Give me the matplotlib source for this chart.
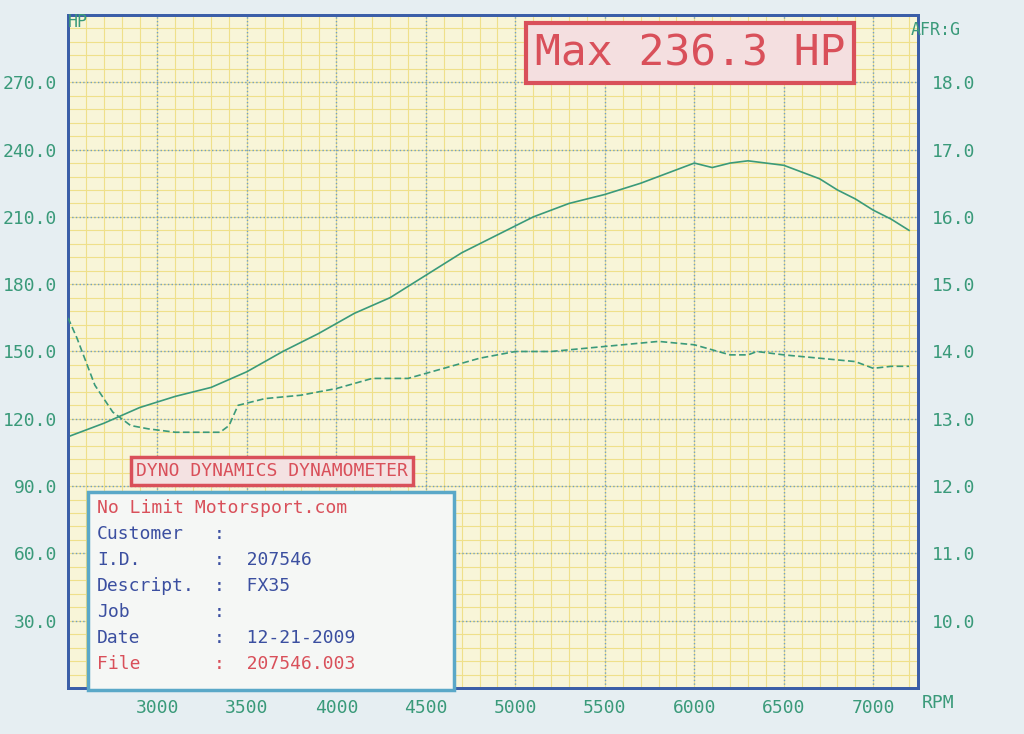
import matplotlib
matplotlib.use("Agg")
import matplotlib.pyplot as plt
from matplotlib.patches import Rectangle
import numpy as np

rpm_hp = [2500,2700,2900,3100,3300,3500,3700,3900,4100,4300,4500,4700,4900,5100,5300,5500,5700,5900,6000,6100,6200,6300,6400,6500,6600,6700,6800,6900,7000,7100,7200]
hp = [112,118,125,130,134,141,150,158,167,174,184,194,202,210,216,220,225,231,234,232,234,235,234,233,230,227,222,218,213,209,204]
rpm_afr = [2500,2550,2650,2750,2850,2950,3100,3250,3350,3400,3450,3600,3800,4000,4200,4400,4600,4800,5000,5200,5400,5600,5800,6000,6200,6300,6350,6500,6700,6900,7000,7100,7200]
afr = [14.5,14.2,13.5,13.1,12.9,12.85,12.8,12.8,12.8,12.9,13.2,13.3,13.35,13.45,13.6,13.6,13.75,13.9,14.0,14.0,14.05,14.1,14.15,14.1,13.95,13.95,14.0,13.95,13.9,13.85,13.75,13.78,13.78]
hp_ticks = [30,60,90,120,150,180,210,240,270]
afr_ticks = [10,11,12,13,14,15,16,17,18]
rpm_ticks = [3000,3500,4000,4500,5000,5500,6000,6500,7000]

mono = "DejaVu Sans Mono"
green = "#3a9a7a"
fig = plt.figure(figsize=(10.24,7.34), dpi=100, facecolor="#e6eef2")
ax = fig.add_axes([68/1024, 46/734, 850/1024, 673/734])
ax.set_facecolor("#f8f5d8")
ax.set_xlim(2500,7250); ax.set_ylim(0,300)
for x in np.arange(2500,7251,100):
    ax.axvline(x,color="#efe08a",lw=0.8,zorder=0)
for y in np.arange(0,301,6):
    ax.axhline(y,color="#efe08a",lw=0.8,zorder=0)
for x in rpm_ticks:
    ax.axvline(x,color="#6f9fc8",lw=1,ls=":",zorder=1)
for y in hp_ticks:
    ax.axhline(y,color="#6f9fc8",lw=1,ls=":",zorder=1)
ax.plot(rpm_hp,hp,color=green,lw=1.2,zorder=3)
ax2 = ax.twinx()
ax2.set_ylim(9,19)
ax2.plot(rpm_afr,afr,color=green,lw=1.2,ls=(0,(4,2)),zorder=3)
for a in (ax,ax2):
    for s in a.spines.values():
        s.set_color("#3b5ea8"); s.set_linewidth(2)
ax.set_xticks(rpm_ticks); ax.set_xticklabels([str(t) for t in rpm_ticks],family=mono,color=green,fontsize=13)
ax.set_yticks(hp_ticks); ax.set_yticklabels([f"{t:.1f}" for t in hp_ticks],family=mono,color=green,fontsize=13)
ax2.set_yticks(afr_ticks); ax2.set_yticklabels([f"{t:.1f}" for t in afr_ticks],family=mono,color=green,fontsize=13)
ax.tick_params(length=0,pad=8); ax2.tick_params(length=0,pad=10)
fig.text(78/1024,1-22/734,"HP",family=mono,color=green,fontsize=12,ha="center",va="center")
fig.text(936/1024,1-30/734,"AFR:G",family=mono,color=green,fontsize=12,ha="center",va="center")
fig.text(938/1024,1-703/734,"RPM",family=mono,color=green,fontsize=13,ha="center",va="center")
red = "#d9505a"
fig.text(690/1024,1-53/734,"Max 236.3 HP",family=mono,color=red,fontsize=31,ha="center",va="center",
         bbox=dict(boxstyle="square,pad=0.2",fc="#f4dfe0",ec=red,lw=3))
fig.text(272/1024,1-471/734,"DYNO DYNAMICS DYNAMOMETER",family=mono,color=red,fontsize=13,ha="center",va="center",
         bbox=dict(boxstyle="square,pad=0.3",fc="#f4e2e2",ec=red,lw=2.5))
fig.patches.append(Rectangle((88/1024,1-690/734),366/1024,(690-492)/734,transform=fig.transFigure,
                             fc="#f5f7f5",ec="#5aa8c8",lw=2.5,zorder=5))
blue = "#3b4fa0"
rows = [("No Limit Motorsport.com","",red),("Customer",":",blue),("I.D.",":  207546",blue),
        ("Descript.",":  FX35",blue),("Job",":",blue),("Date",":  12-21-2009",blue),("File",":  207546.003",red)]
for i,(a,b,c) in enumerate(rows):
    y = 1-(508+i*26)/734
    fig.text(97/1024,y,a,family=mono,color=c,fontsize=13,va="center",zorder=6)
    if b:
        fig.text(214/1024,y,b,family=mono,color=c,fontsize=13,va="center",zorder=6)
fig.savefig("out.png",dpi=100,facecolor=fig.get_facecolor())
